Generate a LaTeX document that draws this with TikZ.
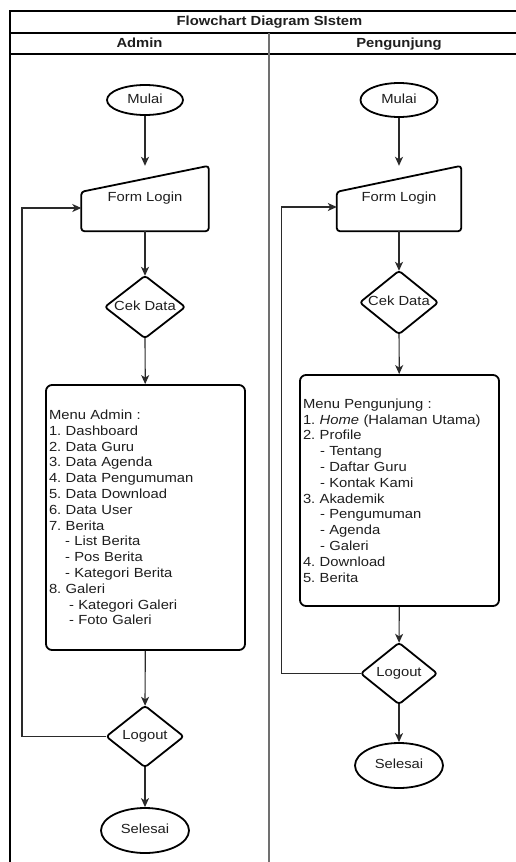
\documentclass[tikz,border=0pt]{standalone}
\usepackage{fontspec}
\setmainfont{Liberation Sans}[FakeStretch=1.12]
\frenchspacing
\usetikzlibrary{shapes.geometric,arrows.meta}
\definecolor{ink}{HTML}{1E1E1E}
\definecolor{conn}{HTML}{2A2A2A}
\definecolor{divgray}{HTML}{707070}
\tikzset{
  txt/.style={font=\fontsize{13.2}{15.8}\selectfont, text=ink},
  oneline/.style={txt, text height=9.5pt, text depth=2.8pt},
  titletxt/.style={font=\fontsize{13.2}{15.8}\selectfont\bfseries, text=ink, inner sep=0pt, text height=9.5pt, text depth=2.8pt},
  frameline/.style={draw=black, line width=1.4pt},
  divline/.style={draw=divgray, line width=2.4pt},
  outline/.style={draw=black, line width=1.8pt, line join=round},
  term/.style={oneline, ellipse, outline, inner sep=0pt},
  bbox/.style={oneline, rectangle, inner sep=0pt},
  menubox/.style={txt, rectangle, outline, rounded corners=6pt, inner xsep=3pt, inner ysep=0pt, align=left},
  arr/.style={draw=conn, line width=1.2pt, -{Stealth[length=9pt,width=8pt,inset=2.5pt]}},
  link/.style={draw=conn, line width=1.2pt}
}
\begin{document}
\begin{tikzpicture}[x=1pt,y=-1pt]
\useasboundingbox (0,0) rectangle (516,862);
\clip (0,0) rectangle (516,862);

% frame
\draw[frameline] (10,890) -- (10,11) -- (540,11);
\draw[frameline] (10,33) -- (540,33);
\draw[frameline] (10,54) -- (540,54);
\draw[divline] (269,33) -- (269,890);

\node[titletxt] (title) at (269.5,22.5) {Flowchart Diagram SIstem};
\node[titletxt] (hadmin) at (139.5,44) {Admin};
\node[titletxt] (hpeng) at (399,44) {Pengunjung};

% ---------- Admin lane ----------
\node[term, minimum width=76pt, minimum height=30pt] (m1) at (145,100) {Mulai};
\node[bbox, minimum width=127pt, minimum height=65pt] (fl1) at (145,198.5) {Form Login};
\draw[outline, rounded corners=3pt] ([yshift=-26pt]fl1.north west) -- (fl1.north east) -- (fl1.south east) -- (fl1.south west) -- cycle;
\node[bbox, minimum width=80pt, minimum height=62pt] (cek1) at (145,307) {Cek Data};
\draw[outline, rounded corners=3pt] (cek1.north) -- (cek1.east) -- (cek1.south) -- (cek1.west) -- cycle;
\node[menubox, text width=193pt, minimum height=265pt] (menu1) at (145.5,517.5) {Menu Admin :\\
1. Dashboard\\
2. Data Guru\\
3. Data Agenda\\
4. Data Pengumuman\\
5. Data Download\\
6. Data User\\
7. Berita\\
\hspace*{16pt}- List Berita\\
\hspace*{16pt}- Pos Berita\\
\hspace*{16pt}- Kategori Berita\\
8. Galeri\\
\hspace*{20pt}- Kategori Galeri\\
\hspace*{20pt}- Foto Galeri};
\node[bbox, minimum width=77pt, minimum height=61pt] (lo1) at (145,736.5) {Logout};
\draw[outline, rounded corners=3pt] (lo1.north) -- (lo1.east) -- (lo1.south) -- (lo1.west) -- cycle;
\node[term, minimum width=88pt, minimum height=45pt] (s1) at (145,830.5) {Selesai};

\draw[arr] (m1) -- (fl1);
\draw[arr] (fl1) -- (cek1);
\draw[arr] (cek1) -- (menu1);
\draw[arr] (menu1) -- (lo1);
\draw[arr] (lo1) -- (s1);
\coordinate (back1) at (22,736.5);
\draw[arr] (lo1.west) -- (back1) |- ([yshift=-9.5pt]fl1.west);

% ---------- Pengunjung lane ----------
\node[term, minimum width=77pt, minimum height=34pt] (m2) at (399,100) {Mulai};
\node[bbox, minimum width=124pt, minimum height=65pt] (fl2) at (399,198.5) {Form Login};
\draw[outline, rounded corners=3pt] ([yshift=-26pt]fl2.north west) -- (fl2.north east) -- (fl2.south east) -- (fl2.south west) -- cycle;
\node[bbox, minimum width=78pt, minimum height=63pt] (cek2) at (399,302.5) {Cek Data};
\draw[outline, rounded corners=3pt] (cek2.north) -- (cek2.east) -- (cek2.south) -- (cek2.west) -- cycle;
\node[menubox, text width=193pt, minimum height=231pt] (menu2) at (399.5,490.5) {Menu Pengunjung :\\
1. \textit{Home} (Halaman Utama)\\
2. Profile\\
\hspace*{17pt}- Tentang\\
\hspace*{17pt}- Daftar Guru\\
\hspace*{17pt}- Kontak Kami\\
3. Akademik\\
\hspace*{17pt}- Pengumuman\\
\hspace*{17pt}- Agenda\\
\hspace*{17pt}- Galeri\\
4. Download\\
5. Berita};
\node[bbox, minimum width=76pt, minimum height=61pt] (lo2) at (399,673.5) {Logout};
\draw[outline, rounded corners=3pt] (lo2.north) -- (lo2.east) -- (lo2.south) -- (lo2.west) -- cycle;
\node[term, minimum width=88pt, minimum height=45pt] (s2) at (399,765.5) {Selesai};

\draw[arr] (m2) -- (fl2);
\draw[arr] (fl2) -- (cek2);
\draw[arr] (cek2) -- (menu2);
\draw[arr] (menu2) -- (lo2);
\draw[arr] (lo2) -- (s2);
\coordinate (back2) at (281.5,673.5);
\draw[arr] (lo2.west) -- (back2) |- ([yshift=-8.5pt]fl2.west);
\end{tikzpicture}
\end{document}
